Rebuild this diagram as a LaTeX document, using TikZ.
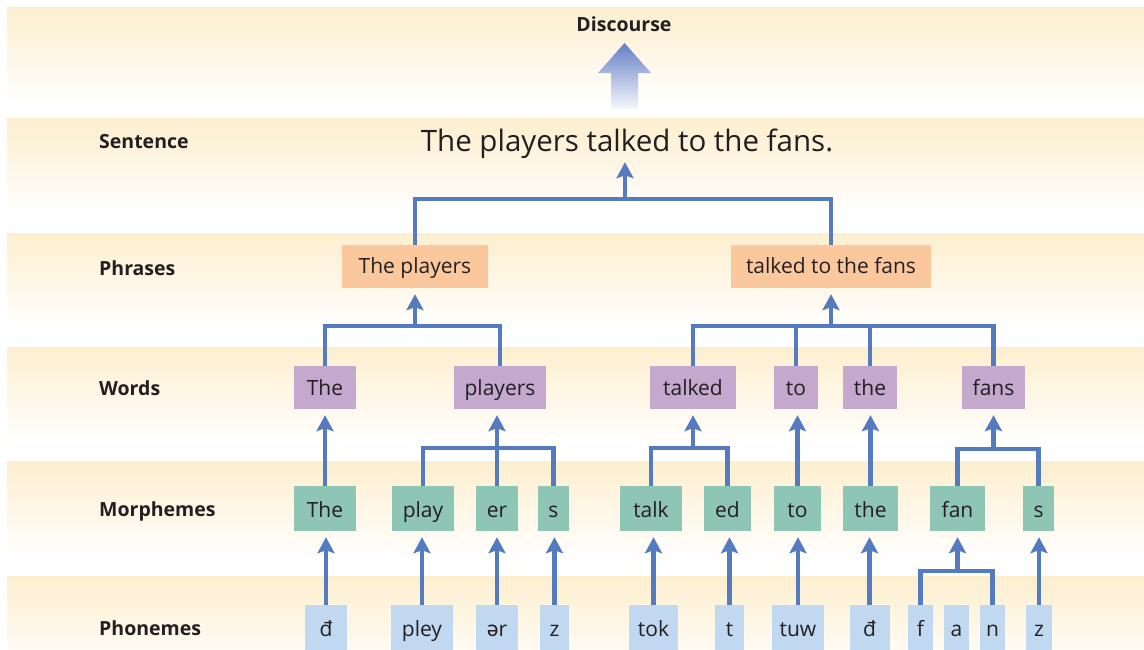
\documentclass[tikz,border=0pt]{standalone}
\usepackage{fontspec}
\setmainfont{Open Sans}
\newfontfamily\ipafont{Noto Sans}
\usetikzlibrary{arrows.meta}

\definecolor{band}{RGB}{253,238,206}
\definecolor{link}{RGB}{84,122,192}
\definecolor{phrasefill}{RGB}{251,200,157}
\definecolor{wordfill}{RGB}{196,168,206}
\definecolor{morphfill}{RGB}{143,197,181}
\definecolor{phonfill}{RGB}{192,216,240}
\definecolor{ink}{RGB}{35,31,32}
\definecolor{discblue}{RGB}{100,128,198}

\begin{document}
\begin{tikzpicture}[x=1pt,y=-1pt,
  unit/.style={inner sep=0pt, text=ink, anchor=center,
    font=\fontsize{21}{24}\selectfont},
  phrase/.style={unit, fill=phrasefill, minimum height=43pt, text height=17pt, text depth=4pt},
  word/.style={unit, fill=wordfill, minimum height=43pt, text height=19pt, text depth=4pt},
  morph/.style={unit, fill=morphfill, minimum height=45pt, text height=22pt, text depth=4pt},
  phon/.style={unit, fill=phonfill, minimum height=45pt, text height=22pt, text depth=4pt},
  level/.style={inner sep=0pt, text=ink, anchor=base west,
    font=\fontsize{19.5}{22}\selectfont\bfseries},
  link/.style={draw=link, line width=4.5pt},
  up/.style={link, -{Stealth[length=16pt,width=17pt,inset=3pt]}, shorten >=6pt},
]
\useasboundingbox (0,0) rectangle (1144,649);

% level bands, each fading from cream to white
\foreach \t in {7,118,233,347,461,576}
  \shade[top color=band, bottom color=white] (7,\t) rectangle (1144,\t+96);

% level names
\node[inner sep=0pt, text=ink, anchor=base, font=\fontsize{19.5}{22}\selectfont\bfseries]
  (Ldisc) at (624,31) {Discourse};
\node[level] (Lsent)  at (99,148) {Sentence};
\node[level] (Lphr)   at (99,275) {Phrases};
\node[level] (Lword)  at (99,395) {Words};
\node[level] (Lmorph) at (99,516) {Morphemes};
\node[level] (Lphon)  at (99,635) {Phonemes};

% broad arrow up to discourse
\shade[top color=discblue, bottom color=discblue!6]
  (611,109) -- (611,73) -- (598,73) -- (624.5,43) -- (651,73) -- (638,73) -- (638,109) -- cycle;

% sentence
\node[inner sep=0pt, text=ink, anchor=base, text depth=7pt,
  font=\fontsize{29.5}{32}\selectfont] (S) at (627,151) {The players talked to the fans.};

% phrases
\node[phrase, minimum width=146pt] (P1) at (415,266.5) {The players};
\node[phrase, minimum width=200pt] (P2) at (831,266.5) {talked to the fans};

% words
\node[word, minimum width=62pt] (W1) at (325,387.5)   {The};
\node[word, minimum width=92pt] (W2) at (500,387.5)   {players};
\node[word, minimum width=86pt] (W3) at (693,387.5)   {talked};
\node[word, minimum width=44pt] (W4) at (796,387.5)   {to};
\node[word, minimum width=54pt] (W5) at (870,387.5)   {the};
\node[word, minimum width=63pt] (W6) at (993.5,387.5) {fans};

% morphemes
\node[morph, minimum width=62pt] (M1)  at (325,508.5)    {The};
\node[morph, minimum width=62pt] (M2)  at (423,508.5)    {play};
\node[morph, minimum width=42pt] (M3)  at (497,508.5)    {er};
\node[morph, minimum width=31pt] (M4)  at (553.5,508.5)  {s};
\node[morph, minimum width=62pt] (M5)  at (651,508.5)    {talk};
\node[morph, minimum width=47pt] (M6)  at (727.5,508.5)  {ed};
\node[morph, minimum width=47pt] (M7)  at (797.5,508.5)  {to};
\node[morph, minimum width=55pt] (M8)  at (870.5,508.5)  {the};
\node[morph, minimum width=55pt] (M9)  at (957.5,508.5)  {fan};
\node[morph, minimum width=31pt] (M10) at (1038.5,508.5) {s};

% phonemes
\node[phon, minimum width=42pt] (F1)  at (326,627.5)    {đ};
\node[phon, minimum width=62pt] (F2)  at (422,627.5)    {pley};
\node[phon, minimum width=42pt] (F3)  at (497,627.5)    {{\ipafont ə}r};
\node[phon, minimum width=29pt] (F4)  at (554.5,627.5)  {z};
\node[phon, minimum width=49pt] (F5)  at (653.5,627.5)  {tok};
\node[phon, minimum width=29pt] (F6)  at (729.5,627.5)  {t};
\node[phon, minimum width=52pt] (F7)  at (798,627.5)    {tuw};
\node[phon, minimum width=40pt] (F8)  at (869.5,627.5)  {đ};
\node[phon, minimum width=25pt] (F9)  at (920.5,627.5)  {f};
\node[phon, minimum width=25pt] (F10) at (956.5,627.5)  {a};
\node[phon, minimum width=25pt] (F11) at (992.5,627.5)  {n};
\node[phon, minimum width=26pt] (F12) at (1039,627.5)   {z};

% phonemes -> morphemes
\foreach \f/\m in {F1/M1,F2/M2,F3/M3,F4/M4,F5/M5,F6/M6,F7/M7,F8/M8,F12/M10}
  \draw[up] (\f.north) -- (\f.north |- \m.south);
\coordinate (kFan) at (957.5,571);
\draw[link] (F9.north) |- (kFan) -| (F11.north);
\draw[up] (kFan) -- (M9.south);

% morphemes -> words
\draw[up] (M1.north) -- (M1.north |- W1.south);
\coordinate (kPlay) at (497,448);
\draw[link] (M2.north) |- (kPlay) -| (M4.north);
\draw[up] (M3.north) -- (M3.north |- W2.south);
\coordinate (kTalk) at (693,448);
\draw[link] (M5.north) |- (kTalk) -| (M6.north);
\draw[up] (kTalk) -- (W3.south);
\draw[up] (M7.north) -- (M7.north |- W4.south);
\draw[up] (M8.north) -- (M8.north |- W5.south);
\coordinate (kFans) at (993.5,449);
\draw[link] (M9.north) |- (kFans) -| (M10.north);
\draw[up] (kFans) -- (W6.south);

% words -> phrases
\coordinate (kP1) at (415,326);
\draw[link] (W1.north) |- (kP1) -| (W2.north);
\draw[up] (kP1) -- (P1.south);
\coordinate (kP2) at (831,326);
\draw[link] (W3.north) |- (kP2) -| (W6.north);
\draw[link] (W4.north) -- (W4.north |- kP2);
\draw[link] (W5.north) -- (W5.north |- kP2);
\draw[up] (kP2) -- (P2.south);

% phrases -> sentence
\coordinate (kS) at (625,199);
\draw[link] (P1.north) |- (kS) -| (P2.north);
\draw[up, shorten >=4pt] (kS) -- (kS |- S.south);
\end{tikzpicture}
\end{document}
